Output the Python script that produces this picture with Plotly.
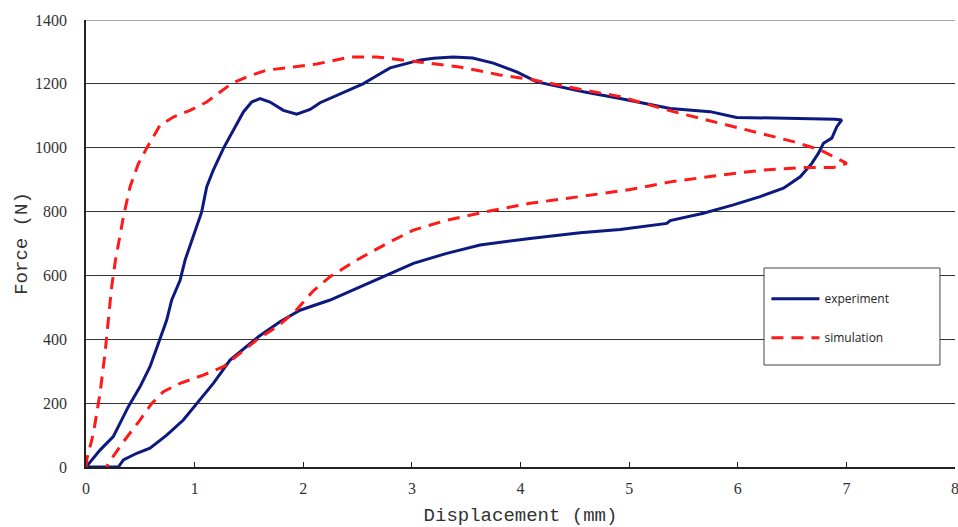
import plotly.graph_objects as go

# Experiment (blue solid): loading then unloading path
exp_x = [0, 0.129, 0.251, 0.39, 0.497, 0.589, 0.666, 0.743, 0.789, 0.866, 0.912, 1.019, 1.065,
         1.111, 1.172, 1.265, 1.357, 1.449, 1.525, 1.602, 1.694, 1.817, 1.94, 2.063, 2.155, 2.35,
         2.55, 2.70, 2.80, 3.08, 3.20, 3.38, 3.56, 3.75, 3.97, 4.15, 4.58, 4.917, 5.378, 5.746,
         5.99, 6.897, 6.958, 6.912, 6.866, 6.789, 6.743, 6.682, 6.575, 6.421, 6.206, 5.96, 5.684,
         5.378, 5.347, 4.917, 4.549, 4.088, 3.628, 3.321, 3.014, 2.738, 2.461, 2.247, 1.97, 1.786,
         1.587, 1.48, 1.326, 1.172, 1.05, 0.896, 0.743, 0.589, 0.467, 0.344, 0.298, 0]
exp_y = [0, 53, 95, 189, 251, 314, 387, 460, 523, 585, 648, 752, 799,
         877, 930, 998, 1055, 1112, 1143, 1154, 1143, 1117, 1105, 1120, 1141, 1170,
         1200, 1230, 1250, 1275, 1280, 1284, 1281, 1265, 1237, 1206, 1175, 1154, 1123, 1113,
         1095, 1089, 1087, 1066, 1030, 1014, 983, 951, 909, 873, 847, 821, 795,
         772, 763, 744, 734, 716, 695, 669, 638, 596, 554, 523, 491, 455,
         408, 377, 335, 262, 210, 147, 100, 59, 43, 22, 0, 0]

# Simulation (red dashed)
sim_x = [0, 0.006, 0.068, 0.129, 0.175, 0.205, 0.236, 0.27, 0.344, 0.405, 0.482, 0.558, 0.681,
         0.804, 0.958, 1.111, 1.234, 1.341, 1.48, 1.664, 1.909, 2.124, 2.43, 2.68, 3.08, 3.44,
         3.81, 4.12, 4.58, 4.917, 5.408, 5.838, 6.145, 6.513, 6.759, 7.004, 6.882, 6.605, 6.237,
         5.838, 5.378, 5.009, 4.549, 4.088, 3.69, 3.321, 3.014, 2.769, 2.492, 2.247, 2.093, 1.909,
         1.756, 1.572, 1.418, 1.265, 1.08, 0.866, 0.712, 0.605, 0.497, 0.344, 0.205, 0.19]
sim_y = [0, 22, 105, 231, 356, 460, 564, 645, 783, 877, 950, 998, 1070,
         1096, 1117, 1143, 1175, 1201, 1222, 1243, 1253, 1262, 1284, 1284, 1268, 1253,
         1228, 1212, 1181, 1160, 1113, 1077, 1051, 1019, 993, 951, 938, 938, 930,
         914, 893, 869, 847, 826, 800, 773, 742, 700, 648, 596, 552, 481,
         439, 398, 356, 314, 288, 262, 236, 199, 147, 79, 11, 0]

x_ticks = [0, 1, 2, 3, 4, 5, 6, 7, 8]
y_ticks = [0, 200, 400, 600, 800, 1000, 1200, 1400]

fig = go.Figure()
fig.add_trace(go.Scatter(x=exp_x, y=exp_y, mode="lines", name="experiment",
                         line=dict(color="#0c1a80", width=3), legendgroup="a"))
fig.add_trace(go.Scatter(x=sim_x, y=sim_y, mode="lines", name="simulation",
                         line=dict(color="#ff1a1a", width=3, dash="12px,8px"), legendgroup="b"))

fig.add_shape(type="rect", xref="paper", yref="paper", x0=0.7802, x1=0.9827, y0=0.2282, y1=0.4452,
              fillcolor="white", line=dict(color="#444", width=1), layer="above")
fig.add_shape(type="line", xref="paper", yref="y", x0=0, x1=1, y0=1400, y1=1400,
              line=dict(color="#aaaaaa", width=2), layer="above")

tick_font = dict(family="Liberation Serif", size=16, color="#333")
title_font = dict(family="Liberation Mono", size=19, color="#333")

fig.update_layout(
    width=958, height=527,
    margin=dict(l=86, r=3, t=20, b=60, autoexpand=False),
    paper_bgcolor="white", plot_bgcolor="white",
    showlegend=True,
    legend=dict(x=0.783, y=0.409, xanchor="left", yanchor="top",
                bgcolor="rgba(0,0,0,0)", borderwidth=0,
                font=dict(family="Open Sans", size=12, color="#222"),
                tracegroupgap=20, traceorder="grouped", itemwidth=48),
    xaxis=dict(range=[0, 8], tickvals=x_ticks, ticktext=[str(v) for v in x_ticks],
               showgrid=False, zeroline=False, showline=True, linecolor="#222", linewidth=1.5,
               ticks="inside", ticklen=5, tickcolor="#222", tickfont=tick_font,
               ticklabelstandoff=6, ticklabeloverflow="allow", automargin=False,
               title=dict(text="Displacement (mm)", font=title_font, standoff=17)),
    yaxis=dict(range=[0, 1400], tickvals=y_ticks, ticktext=[str(v) for v in y_ticks],
               showgrid=True, gridcolor="#333", gridwidth=1, zeroline=False,
               showline=True, linecolor="#222", linewidth=1.5, ticks="", automargin=False,
               tickfont=tick_font, ticklabelstandoff=14,
               title=dict(text="Force (N)", font=title_font, standoff=2)),
)

fig.write_html("out.html")
